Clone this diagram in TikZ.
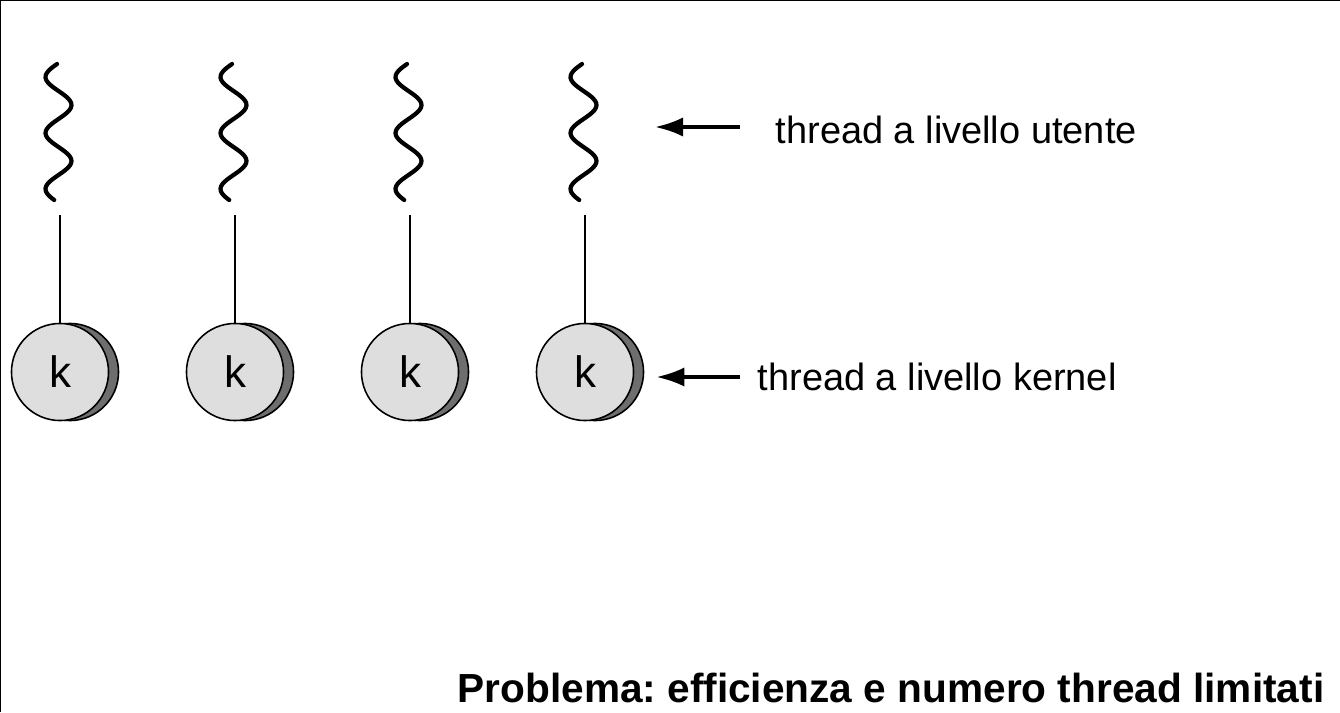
\documentclass[tikz,border=0pt]{standalone}
\usepackage{fontspec}
\setmainfont{Liberation Sans}
\usetikzlibrary{arrows.meta, positioning}

\definecolor{kfront}{HTML}{DEDEDE}
\definecolor{kback}{HTML}{6E6E6E}

\begin{document}
\frenchspacing
\begin{tikzpicture}[
  x=0.01cm, y=-0.01cm, % pixel-like units, y grows downwards
  kthread/.style={circle, draw, line width=0.45pt, fill=kfront, minimum size=0.97cm, inner sep=0pt, font=\fontsize{12.5}{14}\selectfont},
  kshadow/.style={circle, draw, line width=0.45pt, fill=kback, minimum size=0.97cm, inner sep=0pt},
  uthread/.style={line width=1.2pt, line cap=round},
  arr/.style={-{Latex[length=8pt,width=5.5pt]}, line width=1pt},
  lbl/.style={font=\fontsize{10.8}{12}\selectfont, inner sep=0pt}
   ]

  \useasboundingbox (0,0) rectangle (1340,712);
  \draw[line width=0.5pt] (0.3,712) -- (0.3,0.3) -- (1340,0.3);

  \foreach \i/\cx in {1/60, 2/235, 3/410, 4/585}{
    % user level thread
    \draw[uthread] plot[domain=64:200, samples=60, smooth] ({\cx-1.5-13*cos((\x-77)*6.4286)}, \x);
    \coordinate (u\i) at (\cx,215);
    % kernel level thread
    \node[kshadow] (kb\i) at (\cx+10,372) {};
    \node[kthread] (k\i) at (\cx,372) {k};
    \draw[line width=0.65pt] (u\i) -- (k\i.north);
  }

  \coordinate (t4) at (655,127);
  \node[lbl, anchor=west] (lblu) at (775,130) {thread a livello utente};
  \node[lbl, anchor=west] (lblk) at (757,377) {thread a livello kernel};
  \draw[arr] ([xshift=-0.35cm]lblu.west |- t4) -- (t4);
  \draw[arr] ([xshift=-0.17cm]lblk.west) -- ([xshift=0.12cm]kb4.east |- lblk.west);

  \node[anchor=base east, inner sep=0pt, font=\fontsize{11.55}{13}\selectfont\bfseries] (prob) at (1325,702) {Problema: efficienza e numero thread limitati};
\end{tikzpicture}
\end{document}
